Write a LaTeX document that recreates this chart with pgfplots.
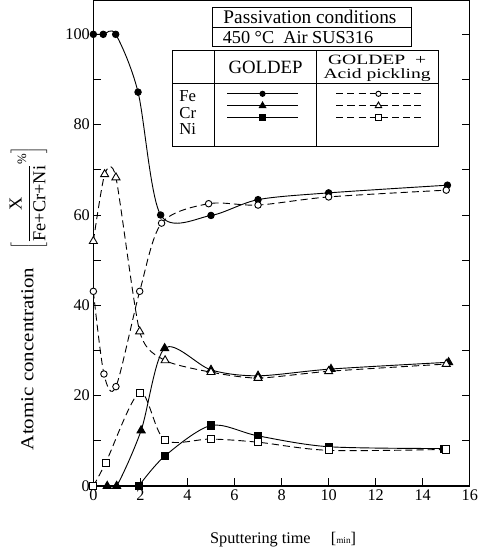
\documentclass[border=0pt]{standalone}
\usepackage{fontspec}
\setmainfont{Liberation Serif}
\usepackage{graphicx}
\usepackage{pgfplots}
\pgfplotsset{compat=1.18}
\begin{document}
\begin{tikzpicture}
\useasboundingbox (-92pt,-67pt) rectangle (380pt,479pt);
\begin{axis}[
  scale only axis, width=371pt, height=479pt,
  xmin=0, xmax=16, ymin=0, ymax=107.6,
  xtick={0,2,...,16}, ytick={0,20,...,100}, minor ytick={10,30,...,90},
  xtick pos=lower,
  tick align=inside, major tick length=8pt, minor tick length=8pt,
  tick style={line width=0.8pt, black},
  axis line style={line width=1.2pt},
  /pgf/number format/assume math mode=true,
  tick label style={font=\fontsize{16}{16}\selectfont},
  xlabel={Sputtering time\hspace{20pt}[{\fontsize{9}{9}\selectfont min}]},
  every axis x label/.style={at={(axis description cs:0.504,-0.111)}, anchor=center, font=\fontsize{16}{16}\selectfont},
  ylabel={\scalebox{1.15}[1]{Atomic concentration}\quad$\left[\displaystyle\frac{\mbox{X}}{\mbox{Fe+Cr+Ni}}{}^{\%}\right]$},
  every axis y label/.style={at={(axis description cs:-0.1725,0.386)}, anchor=center, rotate=90, font=\fontsize{18}{18}\selectfont},
  clip mode=individual,
  legend columns=2, legend plot pos=right,
  legend style={draw=none, fill=none, inner sep=0pt, outer sep=0pt, column sep=0pt, row sep=4.3pt,
    at={(axis description cs:0.3,0.8148)}, anchor=north west,
    nodes={inner sep=0pt, outer sep=0pt}},
  solidline/.style={black, line width=0.9pt, smooth, tension=0.5,
    legend image code/.code={\draw[mark repeat=2,mark phase=2,mark size=0.8*\pgfplotmarksize] plot coordinates {(0pt,0pt) (35pt,0pt) (70pt,0pt)};}},
  dashline/.style={black, line width=0.9pt, smooth, tension=0.5, dash pattern=on 7pt off 4pt,
    legend image code/.code={\draw[mark repeat=2,mark phase=2,mark size=0.8*\pgfplotmarksize] plot coordinates {(0pt,0pt) (41.65pt,0pt) (83.3pt,0pt)};}},
]
% Fe GOLDEP
\addplot[solidline, mark=*, mark size=3.2pt] coordinates {(0,100)(0.42,100)(0.95,100)(1.9,87.2)(2.86,60)(5,59.9)(7,63.4)(10,64.9)(15.05,66.6)};
\addlegendentry{\hspace*{20pt}\rule[-6pt]{0pt}{12pt}}
% Fe acid
\addplot[dashline, mark=*, mark size=3.2pt, mark options={solid, fill=white}] coordinates {(0,43.1)(0.45,24.8)(0.96,22)(1.97,43.1)(2.9,58.2)(4.9,62.5)(7,62.2)(10,64)(15,65.5)};
\addlegendentry{\hspace*{36.7pt}\rule[-6pt]{0pt}{12pt}}
% Cr GOLDEP
\addplot[solidline, mark=triangle*, mark size=4.6pt] coordinates {(0.59,0)(0.99,0)(2.03,12.3)(3.03,30.5)(5,25.7)(7,24.4)(10.1,25.9)(15.1,27.4)};
\addlegendentry{\hspace*{20pt}\rule[-6pt]{0pt}{12pt}}
% Cr acid
\addplot[dashline, tension=0.4, mark=triangle*, mark size=4.6pt, mark options={solid, fill=white}] coordinates {(0,54.2)(0.48,69)(0.96,68.3)(1.97,34.2)(3.05,27.8)(5,25.2)(7,23.9)(10,25.4)(15,27)};
\addlegendentry{\hspace*{36.7pt}\rule[-6pt]{0pt}{12pt}}
% Ni GOLDEP
\addplot[solidline, mark=square*, mark size=3.5pt] coordinates {(1.93,0)(3.03,6.6)(5,13.4)(7,11.1)(10,8.7)(14.9,8.3)};
\addlegendentry{\hspace*{20pt}\rule[-6pt]{0pt}{12pt}}
% Ni acid
\addplot[dashline, mark=square*, mark size=3.5pt, mark options={solid, fill=white}] coordinates {(0,0)(0.53,5.2)(1.97,20.7)(3.03,10.2)(5,10.4)(7,9.7)(10,7.9)(15,8.1)};
\addlegendentry{\hspace*{36.7pt}\rule[-6pt]{0pt}{12pt}}
\end{axis}
% legend table frame
\draw[line width=0.8pt] (117pt,452pt) rectangle (313pt,472pt);
\draw[line width=0.8pt] (117pt,433.7pt) rectangle (313pt,452pt);
\node[font=\fontsize{19}{19}\selectfont] at (213.5pt,462pt) {Passivation conditions};
\node[font=\fontsize{18}{18}\selectfont, anchor=west] at (124pt,442.5pt) {450 °C\ \ Air SUS316};
\draw[line width=0.8pt] (78pt,335pt) rectangle (339.7pt,429pt);
\draw[line width=0.8pt] (78pt,397pt) -- (339.7pt,397pt);
\draw[line width=0.8pt] (119.7pt,335pt) -- (119.7pt,429pt);
\draw[line width=0.8pt] (219.7pt,335pt) -- (219.7pt,429pt);
\node[font=\fontsize{18.5}{18.5}\selectfont] at (169.7pt,413pt) {GOLDEP};
\node[font=\fontsize{14}{14}\selectfont] at (279.7pt,419.5pt) {\scalebox{1.38}[1]{GOLDEP\ \ +}};
\node[font=\fontsize{14}{14}\selectfont] at (279.7pt,405pt) {\scalebox{1.38}[1]{Acid pickling}};
\node[font=\fontsize{16.5}{16.5}\selectfont] at (93pt,384.3pt) {Fe};
\node[font=\fontsize{16.5}{16.5}\selectfont] at (93pt,368pt) {Cr};
\node[font=\fontsize{16.5}{16.5}\selectfont] at (93pt,351.7pt) {Ni};
\end{tikzpicture}
\end{document}
